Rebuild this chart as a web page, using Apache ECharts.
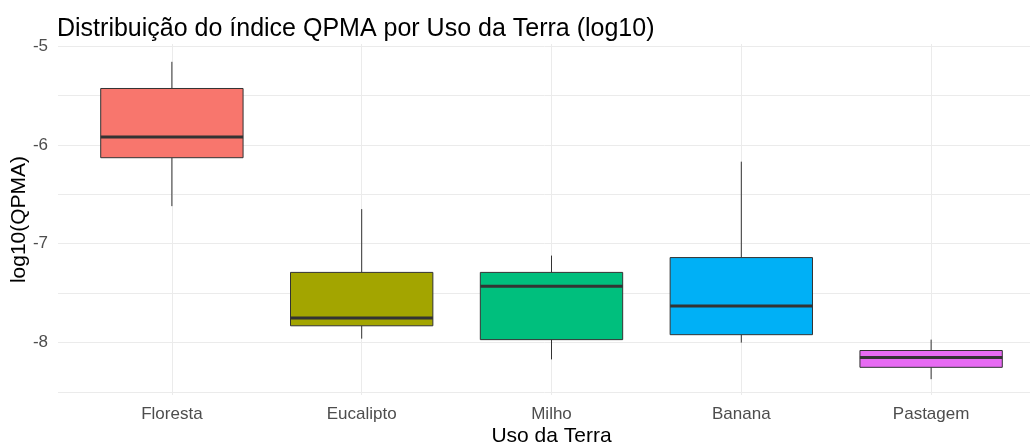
<!DOCTYPE html>
<html>
<head>
<meta charset="utf-8">
<script src="https://cdn.jsdelivr.net/npm/echarts@6/dist/echarts.min.js"></script>
<style>
  html, body { margin: 0; padding: 0; background: #ffffff; }
  #chart { width: 1030px; height: 443px; }
</style>
</head>
<body>
<div id="chart"></div>
<script>
// Land-use categories and the five-number summaries of log10(QPMA)
const categories = ['Floresta', 'Eucalipto', 'Milho', 'Banana', 'Pastagem'];
const whiskerLow  = [-6.62, -7.96, -8.17, -8.00, -8.37];
const quartile1   = [-6.13, -7.83, -7.97, -7.92, -8.25];
const medians     = [-5.92, -7.75, -7.43, -7.63, -8.15];
const quartile3   = [-5.43, -7.29, -7.29, -7.14, -8.08];
const whiskerHigh = [-5.16, -6.65, -7.12, -6.17, -7.97];
const fillColors  = ['#F8766D', '#A3A500', '#00BF7D', '#00B0F6', '#E76BF3'];

const FONT = '"Liberation Sans", Arial, sans-serif';

const boxData = categories.map((c, i) => ({
  value: [i, whiskerLow[i], quartile1[i], medians[i], quartile3[i], whiskerHigh[i]],
  itemStyle: { color: fillColors[i] }
}));

// Box, whiskers and a thick median bar, placed through the axes' coordinate system
function renderBox(params, api) {
  const idx = api.value(0);
  const x = api.coord([idx, 0])[0];
  const half = api.size([1, 0])[0] * 0.75 / 2;
  const yLow = api.coord([idx, api.value(1)])[1];
  const yQ1 = api.coord([idx, api.value(2)])[1];
  const yMed = api.coord([idx, api.value(3)])[1];
  const yQ3 = api.coord([idx, api.value(4)])[1];
  const yHigh = api.coord([idx, api.value(5)])[1];
  const fill = api.visual('color');
  const stroke = '#333333';
  return {
    type: 'group',
    children: [
      { type: 'line', shape: { x1: x, y1: yQ3, x2: x, y2: yHigh }, style: { stroke: stroke, lineWidth: 1 } },
      { type: 'line', shape: { x1: x, y1: yQ1, x2: x, y2: yLow }, style: { stroke: stroke, lineWidth: 1 } },
      { type: 'rect', shape: { x: x - half, y: yQ3, width: half * 2, height: yQ1 - yQ3 },
        style: { fill: fill, stroke: stroke, lineWidth: 1 } },
      { type: 'line', shape: { x1: x - half, y1: yMed, x2: x + half, y2: yMed },
        style: { stroke: stroke, lineWidth: 3 } }
    ]
  };
}

const chart = echarts.init(document.getElementById('chart'), null, { renderer: 'canvas' });
chart.setOption({
  animation: false,
  backgroundColor: '#ffffff',
  title: {
    text: 'Distribuição do índice QPMA por Uso da Terra (log10)',
    left: 52,
    top: 12,
    textStyle: { fontFamily: FONT, fontSize: 25, fontWeight: 'normal', color: '#000000' }
  },
  grid: { left: 58, top: 44, width: 987, height: 351, containLabel: false, outerBoundsMode: 'none' },
  xAxis: {
    type: 'value',
    min: -0.6,
    max: 4.6,
    splitNumber: 5,
    name: 'Uso da Terra',
    nameLocation: 'middle',
    nameGap: 31,
    nameMoveOverlap: false,
    nameTextStyle: { fontFamily: FONT, fontSize: 21, color: '#000000' },
    axisLine: { show: false },
    axisTick: { show: false },
    axisLabel: {
      margin: 11,
      fontFamily: FONT,
      fontSize: 17,
      color: '#4D4D4D',
      showMinLabel: false,
      showMaxLabel: false,
      formatter: v => (Number.isInteger(v) && categories[v] !== undefined) ? categories[v] : ''
    },
    splitLine: { show: true, showMinLine: false, showMaxLine: false, lineStyle: { color: '#EBEBEB', width: 1 } }
  },
  yAxis: {
    type: 'value',
    min: -8.53,
    max: -4.98,
    splitNumber: 7,
    name: 'log10(QPMA)',
    nameLocation: 'middle',
    nameGap: 28,
    nameRotate: 90,
    nameMoveOverlap: false,
    nameTextStyle: { fontFamily: FONT, fontSize: 21, color: '#000000' },
    axisLine: { show: false },
    axisTick: { show: false },
    axisLabel: {
      margin: 10,
      fontFamily: FONT,
      fontSize: 17,
      color: '#4D4D4D',
      showMinLabel: false,
      showMaxLabel: false,
      formatter: v => Number.isInteger(v) ? String(v) : ''
    },
    splitLine: { show: true, showMinLine: false, showMaxLine: false, lineStyle: { color: '#EBEBEB', width: 1 } }
  },
  series: [{
    type: 'custom',
    renderItem: renderBox,
    encode: { x: 0, y: [1, 2, 3, 4, 5] },
    data: boxData,
    clip: false
  }]
});
</script>
</body>
</html>
